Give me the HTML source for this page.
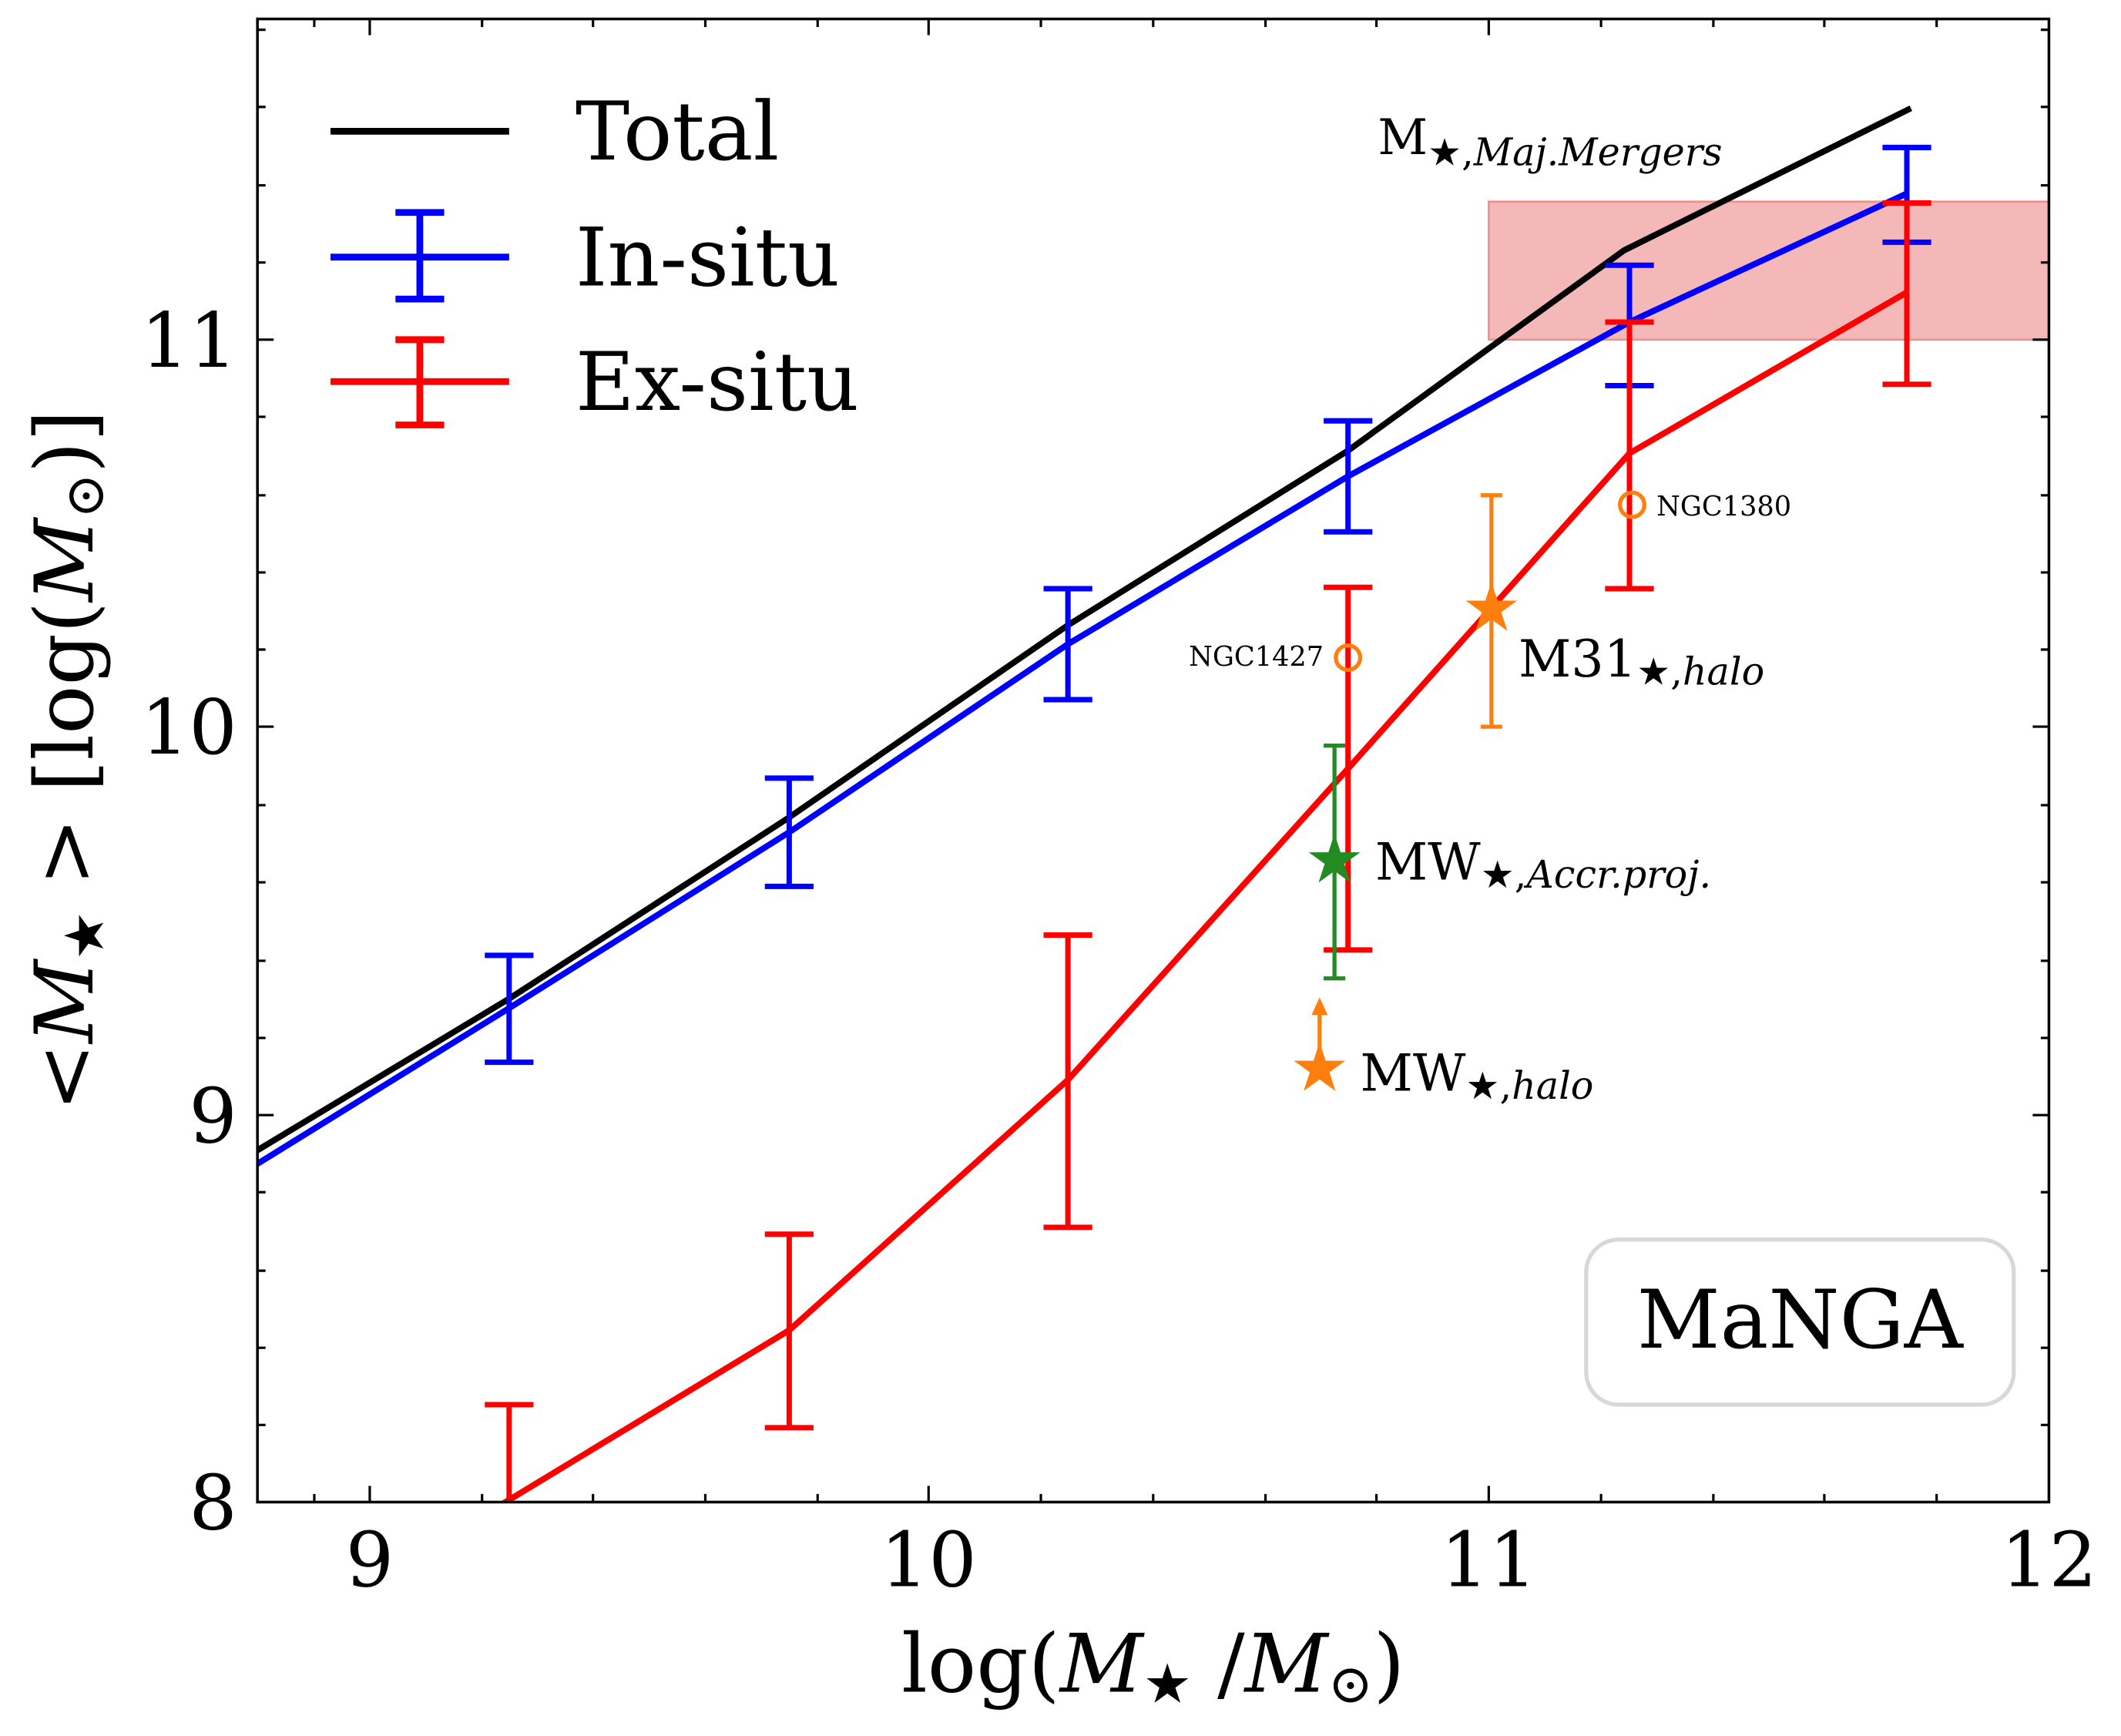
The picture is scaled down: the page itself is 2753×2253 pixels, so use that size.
<!DOCTYPE html>
<html><head><meta charset="utf-8"><style>html,body{margin:0;padding:0;background:#fff}</style></head>
<body>
<svg xmlns="http://www.w3.org/2000/svg" width="2753" height="2248" viewBox="0 0 1567 1280" font-family="'DejaVu Serif','Liberation Serif',serif">
<rect width="1567" height="1280" fill="#fff"/>
<rect x="1100" y="149" width="414" height="102" fill="#f4b8b8" stroke="#ee8f8f" stroke-width="1.5"/>
<defs><clipPath id="c"><rect x="190" y="14" width="1324" height="1096"/></clipPath></defs>
<g clip-path="url(#c)" fill="none" stroke-width="4.5">
<polyline stroke="#000" points="190,850 376,738 583,604 789,462 996,333 1200,185 1412,80"/>
<polyline stroke="#0000ff" points="190,860 376,745 583,615 789,476 996,352 1204,238 1409,143"/>
<polyline stroke="#ff0000" points="370,1112 583,983 789,798 996,568 1204,335 1409,216"/>
<g stroke="#0000ff" stroke-width="4">
<path d="M376,706V785M358,706H394M358,785H394"/>
<path d="M583,575V655M565,575H601M565,655H601"/>
<path d="M789,435V517M771,435H807M771,517H807"/>
<path d="M996,311V393M978,311H1014M978,393H1014"/>
<path d="M1204,196V285M1186,196H1222M1186,285H1222"/>
<path d="M1409,109V179M1391,109H1427M1391,179H1427"/>
</g>
<g stroke="#ff0000" stroke-width="4">
<path d="M376,1038V1110M358,1038H394"/>
<path d="M583,912V1055M565,912H601M565,1055H601"/>
<path d="M789,691V907M771,691H807M771,907H807"/>
<path d="M996,434V702M978,434H1014M978,702H1014"/>
<path d="M1204,238V435M1186,238H1222M1186,435H1222"/>
<path d="M1409,150V284M1391,150H1427M1391,284H1427"/>
</g>
</g>
<g stroke="#ff7f0e" stroke-width="3" fill="none">
<path d="M1102,366V537M1094,366H1110M1094,537H1110"/>
<path d="M975,790V745"/>
<circle cx="996" cy="486" r="9"/>
<circle cx="1206" cy="373" r="9"/>
</g>
<polygon points="975,737 969,750 981,750" fill="#ff7f0e"/>
<path d="M986,551V723M978,551H994M978,723H994" stroke="#228b22" stroke-width="3"/>
<g>
<polygon fill="#ff7f0e" transform="translate(1102,450) scale(20)" points="0,-1 0.225,-0.309 0.951,-0.309 0.363,0.118 0.588,0.809 0,0.382 -0.588,0.809 -0.363,0.118 -0.951,-0.309 -0.225,-0.309"/>
<polygon fill="#228b22" transform="translate(986,636) scale(20)" points="0,-1 0.225,-0.309 0.951,-0.309 0.363,0.118 0.588,0.809 0,0.382 -0.588,0.809 -0.363,0.118 -0.951,-0.309 -0.225,-0.309"/>
<polygon fill="#ff7f0e" transform="translate(975,790) scale(20)" points="0,-1 0.225,-0.309 0.951,-0.309 0.363,0.118 0.588,0.809 0,0.382 -0.588,0.809 -0.363,0.118 -0.951,-0.309 -0.225,-0.309"/>
</g>
<g fill="#000">
<text x="1122" y="500" font-size="38">M31<tspan font-size="28" dy="6">★,<tspan font-style="italic">halo</tspan></tspan></text>
<text x="1016" y="650" font-size="38">MW<tspan font-size="28" dy="6">★,<tspan font-style="italic">Accr.proj.</tspan></tspan></text>
<text x="1005" y="806" font-size="38">MW<tspan font-size="28" dy="6">★,<tspan font-style="italic">halo</tspan></tspan></text>
<text x="1018" y="114" font-size="36">M<tspan font-size="28" dy="8">★,<tspan font-style="italic">Maj.Mergers</tspan></tspan></text>
<text x="1224" y="381" font-size="20">NGC1380</text>
<text x="978" y="492" font-size="20" text-anchor="end">NGC1427</text>
</g>
<rect x="1172" y="916" width="316" height="122" rx="24" fill="#fff" stroke="#d8d8d8" stroke-width="3"/>
<text x="1330" y="996" font-size="60" text-anchor="middle">MaNGA</text>
<g stroke-width="5">
<path d="M244,97H376" stroke="#000"/>
<path d="M244,190H376M310,157V221M292,157H328M292,221H328" stroke="#0000ff"/>
<path d="M244,282H376M310,251V314M292,251H328M292,314H328" stroke="#ff0000"/>
</g>
<g font-size="60">
<text x="425" y="118">Total</text>
<text x="425" y="211">In-situ</text>
<text x="425" y="303">Ex-situ</text>
</g>
<rect x="190" y="14" width="1324" height="1096" fill="none" stroke="#000" stroke-width="2"/>
<g stroke="#000" stroke-width="1.8">
<path d="M273,1110v-12M686,1110v-12M1100,1110v-12M273,14v12M686,14v12M1100,14v12"/>
<path d="M190,251h12M190,537h12M190,824h12M1514,251h-12M1514,537h-12M1514,824h-12"/>
<path d="M190,1053h6M190,996h6M190,939h6M190,881h6M190,767h6M190,710h6M190,652h6M190,595h6M190,480h6M190,423h6M190,366h6M190,308h6M190,194h6M190,137h6M190,79h6M190,22h6"/>
<path d="M1514,1053h-6M1514,996h-6M1514,939h-6M1514,881h-6M1514,767h-6M1514,710h-6M1514,652h-6M1514,595h-6M1514,480h-6M1514,423h-6M1514,366h-6M1514,308h-6M1514,194h-6M1514,137h-6M1514,79h-6M1514,22h-6"/>
<path d="M232,1110v-6M356,1110v-6M438,1110v-6M521,1110v-6M604,1110v-6M769,1110v-6M852,1110v-6M935,1110v-6M1017,1110v-6M1183,1110v-6M1266,1110v-6M1348,1110v-6M1431,1110v-6"/>
<path d="M232,14v6M356,14v6M438,14v6M521,14v6M604,14v6M769,14v6M852,14v6M935,14v6M1017,14v6M1183,14v6M1266,14v6M1348,14v6M1431,14v6"/>
</g>
<g font-size="56" text-anchor="middle">
<text x="273" y="1172">9</text><text x="686" y="1172">10</text><text x="1100" y="1172">11</text><text x="1514" y="1172">12</text>
</g>
<g font-size="56" text-anchor="end">
<text x="175" y="1130">8</text><text x="175" y="844">9</text><text x="175" y="557">10</text><text x="175" y="271">11</text>
</g>
<text x="852" y="1250" font-size="60" text-anchor="middle">log(<tspan font-style="italic">M</tspan><tspan font-size="40" dy="8">★</tspan><tspan dy="-8"> /</tspan><tspan font-style="italic">M</tspan><tspan font-size="40" dy="8">⊙</tspan><tspan dy="-8">)</tspan></text>
<text transform="translate(68,562) rotate(-90)" font-size="60" text-anchor="middle">&lt;<tspan font-style="italic">M</tspan><tspan font-size="40" dy="8">★</tspan><tspan dy="-8"> &gt; [log(</tspan><tspan font-style="italic">M</tspan><tspan font-size="40" dy="8">⊙</tspan><tspan dy="-8">)]</tspan></text>
</svg>
</body></html>
